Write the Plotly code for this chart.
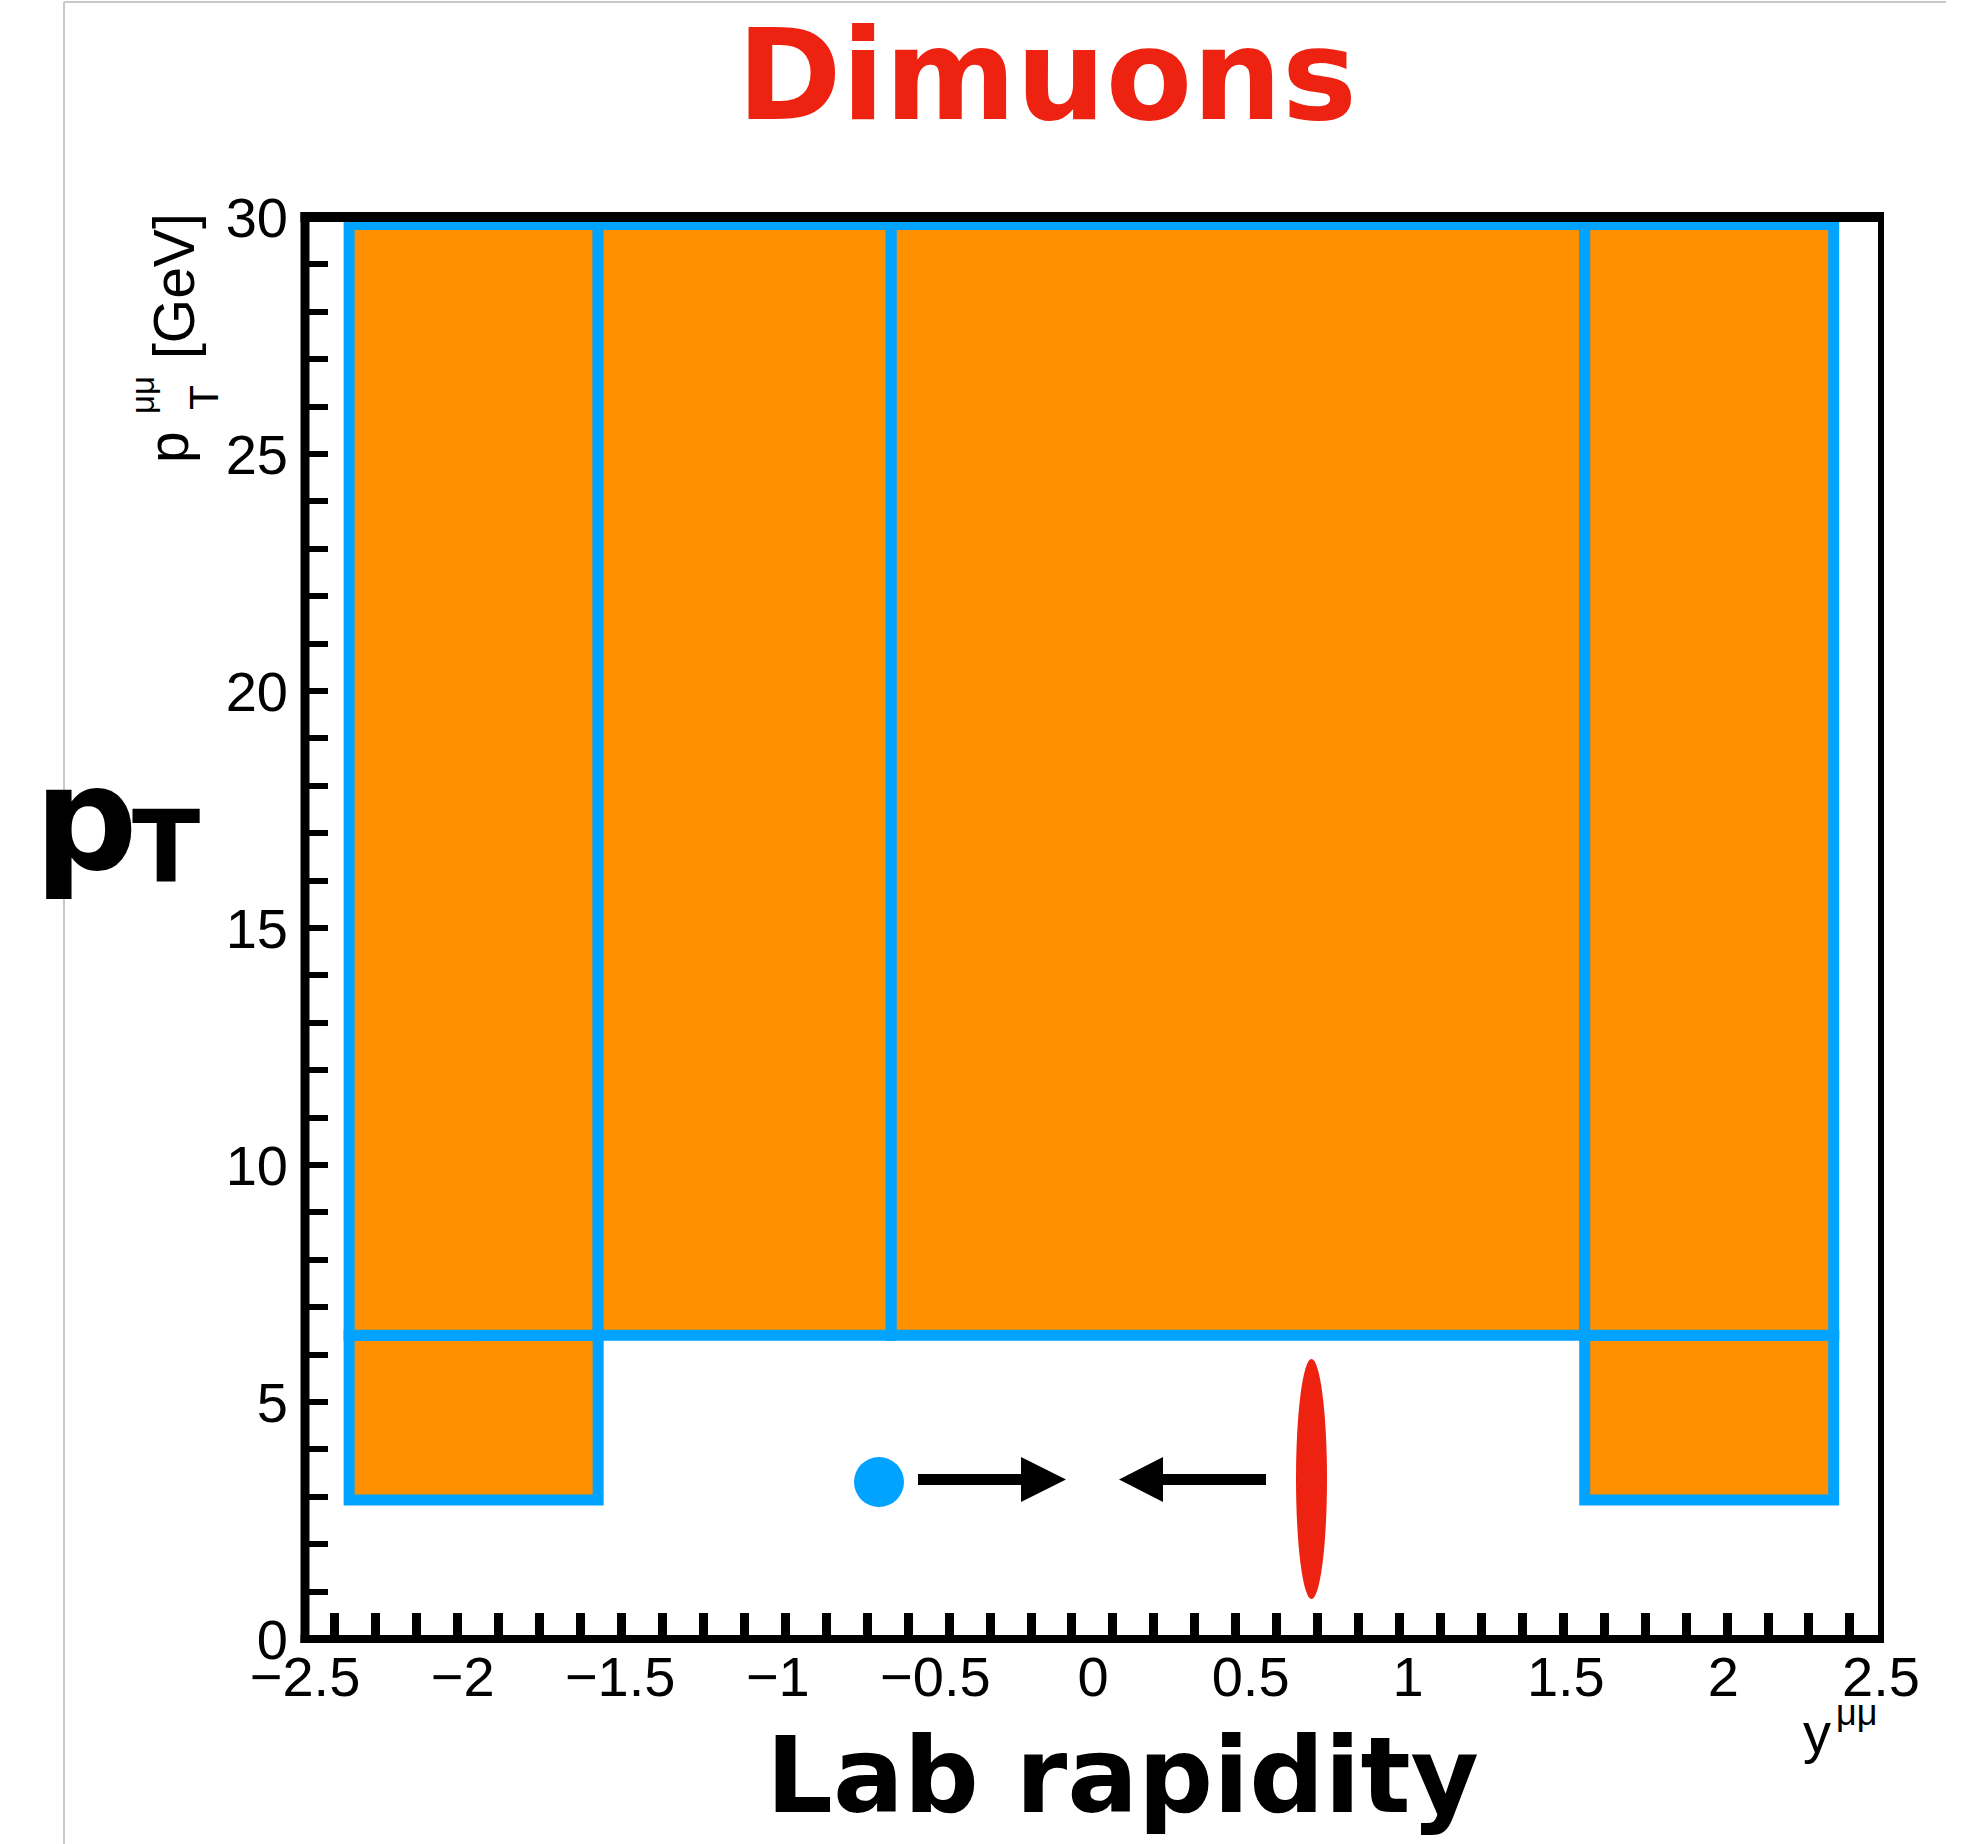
import plotly.graph_objects as go

# ---------------- data ----------------
# acceptance bins: lab rapidity y^{mumu} and pT^{mumu} [GeV]
bin_y_lo = [-2.36, 1.56, -2.36, -1.57, -0.64, 1.56]
bin_y_hi = [-1.57, 2.35, -1.57, -0.64, 1.56, 2.35]
bin_pt_lo = [2.93, 2.93, 6.41, 6.41, 6.41, 6.41]
bin_pt_hi = [6.41, 6.41, 29.84, 29.84, 29.84, 29.84]

x_range = [-2.5, 2.5]
y_range = [0, 30]
x_label_step = 0.5
y_label_step = 5
y_minor_step = 1
# small tick marks along the rapidity axis (first mark, spacing, count)
x_mark_first = -2.405
x_mark_step = 0.1299
x_mark_count = 38

ORANGE = "#ff9100"
BLUE = "#00a3ff"
RED = "#ee2211"

# ---------------- geometry ----------------
W, H = 1962, 1844
L, R, T, B = 305, 81, 217, 205
PW = W - L - R
PH = H - T - B


def xp(px):
    return (px - L) / PW


def yp(py):
    return (H - B - py) / PH


def xd(px):
    return x_range[0] + (px - L) / PW * (x_range[1] - x_range[0])


def yd(py):
    return y_range[0] + (H - B - py) / PH * (y_range[1] - y_range[0])


fig = go.Figure()

for x0, x1, y0, y1 in zip(bin_y_lo, bin_y_hi, bin_pt_lo, bin_pt_hi):
    xm = 0.5 * (x0 + x1)
    fig.add_trace(go.Scatter(
        x=[xm, x1, x1, x0, x0, xm],
        y=[y0, y0, y1, y1, y0, y0],
        mode="lines",
        fill="toself",
        fillcolor=ORANGE,
        line=dict(color=BLUE, width=11),
        hoverinfo="skip",
        showlegend=False,
    ))

shapes = []
# frame of the histogram
shapes.append(dict(type="line", xref="paper", yref="paper",
                   x0=xp(305), x1=xp(305), y0=yp(1643), y1=yp(212),
                   line=dict(color="black", width=9), layer="above"))
shapes.append(dict(type="line", xref="paper", yref="paper",
                   x0=xp(300.5), x1=xp(1884), y0=yp(1639), y1=yp(1639),
                   line=dict(color="black", width=8), layer="above"))
shapes.append(dict(type="line", xref="paper", yref="paper",
                   x0=xp(300.5), x1=xp(1884), y0=yp(217), y1=yp(217),
                   line=dict(color="black", width=10), layer="above"))
shapes.append(dict(type="line", xref="paper", yref="paper",
                   x0=xp(1881), x1=xp(1881), y0=yp(1643), y1=yp(212),
                   line=dict(color="black", width=6), layer="above"))
# thin page frame
shapes.append(dict(type="line", xref="paper", yref="paper",
                   x0=xp(64), x1=xp(64), y0=yp(2), y1=yp(1846),
                   line=dict(color="#c8c8c8", width=2)))
shapes.append(dict(type="line", xref="paper", yref="paper",
                   x0=xp(64), x1=xp(1946), y0=yp(2), y1=yp(2),
                   line=dict(color="#c8c8c8", width=2)))

# colliding beams sketch
shapes.append(dict(type="circle", xref="x", yref="y",
                   x0=xd(854), x1=xd(904), y0=yd(1507), y1=yd(1457),
                   fillcolor=BLUE, line=dict(width=0), layer="above"))
shapes.append(dict(type="circle", xref="x", yref="y",
                   x0=xd(1296), x1=xd(1327), y0=yd(1599), y1=yd(1359),
                   fillcolor=RED, line=dict(width=0), layer="above"))


def path(pts):
    return "M " + " L ".join(f"{xd(a):.5f},{yd(b):.5f}" for a, b in pts) + " Z"


arrow_r = [(918, 1474), (1021, 1474), (1021, 1457), (1066, 1479.5),
           (1021, 1502), (1021, 1485), (918, 1485)]
arrow_l = [(1266, 1474), (1163, 1474), (1163, 1457), (1119, 1479.5),
           (1163, 1502), (1163, 1485), (1266, 1485)]
for pts in (arrow_r, arrow_l):
    shapes.append(dict(type="path", xref="x", yref="y", path=path(pts),
                       fillcolor="black", line=dict(width=0), layer="above"))

ann = []


def add_text(text, px, py, size, family, color="black", angle=0):
    ann.append(dict(text=text, x=xp(px), y=yp(py), xref="paper", yref="paper",
                    xanchor="center", yanchor="middle", showarrow=False,
                    textangle=angle,
                    font=dict(size=size, family=family, color=color)))


add_text("<b>Dimuons</b>", 1047, 76, 126, "DejaVu Sans", RED)
add_text("<b>Lab rapidity</b>", 1122, 1776, 105, "DejaVu Sans")
add_text("<b>p</b>", 86, 818, 145, "DejaVu Sans")
add_text("<b>T</b>", 166, 847, 100, "DejaVu Sans")

add_text("[GeV]", 174, 286, 57, "Liberation Sans", angle=-90)
add_text("p", 168, 447, 57, "Liberation Sans", angle=-90)
add_text("T", 204, 398, 41, "Liberation Sans", angle=-90)
add_text("μμ", 143, 395, 33, "Liberation Sans", angle=-90)

add_text("y", 1817, 1732, 56, "Liberation Sans")
add_text("μμ", 1856, 1712, 36, "Liberation Sans")

x_marks = [x_mark_first + k * x_mark_step for k in range(x_mark_count)]

fig.update_layout(
    width=W, height=H,
    margin=dict(l=L, r=R, t=T, b=B, pad=0),
    paper_bgcolor="white", plot_bgcolor="white",
    shapes=shapes, annotations=ann,
    showlegend=False,
    xaxis=dict(range=x_range, dtick=x_label_step, tick0=0, showgrid=False,
               zeroline=False, showline=False, ticks="",
               tickfont=dict(family="Liberation Sans", size=56, color="black"),
               ticklabelstandoff=0,
               minor=dict(tickmode="array", tickvals=x_marks, ticks="inside",
                          ticklen=26, tickwidth=9, tickcolor="black",
                          showgrid=False)),
    yaxis=dict(range=y_range, dtick=y_label_step, tick0=0, showgrid=False,
               zeroline=False, showline=False, ticks="inside", ticklen=23,
               tickwidth=6, tickcolor="black",
               tickfont=dict(family="Liberation Sans", size=56, color="black"),
               ticklabelstandoff=16,
               minor=dict(dtick=y_minor_step, ticks="inside", ticklen=23,
                          tickwidth=6, tickcolor="black", showgrid=False)),
)

fig.write_html("out.html")
